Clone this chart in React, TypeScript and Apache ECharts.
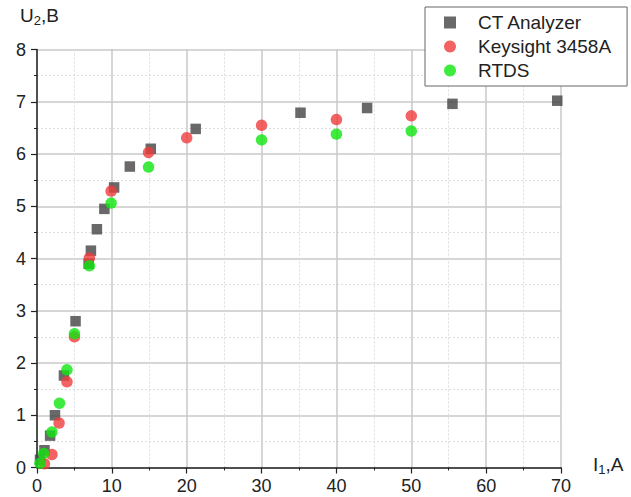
import React, { useEffect, useRef } from "react";
import * as echarts from "echarts";

const ctAnalyzer: number[][] = [
  [0.4, 0.15], [1.0, 0.33], [1.75, 0.61], [2.4, 1.0], [3.6, 1.76], [5.15, 2.8],
  [6.9, 3.9], [7.2, 4.15], [8.0, 4.56], [9.0, 4.95], [10.3, 5.36], [12.4, 5.76],
  [15.2, 6.1], [21.2, 6.48], [35.2, 6.79], [44.1, 6.88], [55.5, 6.96], [69.5, 7.02],
];
const keysight: number[][] = [
  [1.0, 0.07], [2.0, 0.25], [2.95, 0.85], [4.0, 1.64], [5.0, 2.5], [7.0, 4.01],
  [9.9, 5.29], [14.9, 6.03], [20, 6.31], [30, 6.55], [40, 6.66], [50, 6.73],
];
const rtds: number[][] = [
  [0.4, 0.08], [0.9, 0.27], [2.0, 0.68], [3.0, 1.23], [4.0, 1.87], [5.0, 2.56],
  [7.0, 3.86], [9.9, 5.06], [14.9, 5.75], [30, 6.27], [40, 6.38], [50, 6.44],
];
const seriesNames = ["CT Analyzer", "Keysight 3458A", "RTDS"];

const FONT = "'Liberation Sans', Arial, sans-serif";

export default function App() {
  const ref = useRef<HTMLDivElement>(null);
  useEffect(() => {
    if (!ref.current) return;
    const chart = echarts.init(ref.current, null, { renderer: "svg" });
    const axisCommon = {
      axisLine: { show: true, onZero: false, lineStyle: { color: "#222", width: 1.5 } },
      axisTick: { show: true, inside: false, length: 6, lineStyle: { color: "#222", width: 1.2 } },
      minorTick: { show: true, splitNumber: 2, length: 3, lineStyle: { color: "#222", width: 1 } },
      splitLine: { show: true, lineStyle: { color: "#c8c8c8", width: 1.5 } },
      minorSplitLine: { show: true, lineStyle: { color: "#dddddd", width: 1, type: [2, 2] } },
      axisLabel: { color: "#222", fontSize: 18, fontFamily: FONT },
    };
    const rich = {
      a: { fontSize: 19, fontFamily: FONT, fill: "#222" },
      b: { fontSize: 13, fontFamily: FONT, fill: "#222", verticalAlign: "bottom", padding: [9, 0, 0, 0] },
    };
    chart.setOption({
      animation: false,
      backgroundColor: "#fff",
      grid: { left: 37, right: 70, top: 49.5, bottom: 29.5, containLabel: false },
      xAxis: { type: "value", min: 0, max: 70, interval: 10, ...axisCommon,
        axisLabel: { ...axisCommon.axisLabel, margin: 9 } },
      yAxis: { type: "value", min: 0, max: 8, interval: 1, ...axisCommon,
        axisLabel: { ...axisCommon.axisLabel, margin: 11 } },
      legend: {
        orient: "vertical",
        left: 425,
        top: 7,
        padding: [6, 16, 6, 19],
        itemGap: 5,
        itemWidth: 12,
        itemHeight: 12,
        borderColor: "#666",
        borderWidth: 1,
        backgroundColor: "#fff",
        data: seriesNames,
        textStyle: { fontSize: 19, color: "#222", fontFamily: FONT, padding: [0, 0, 0, 17] },
      },
      graphic: [
        { type: "text", left: 20, top: 6, style: { text: "{a|U}{b|2}{a|,B}", rich } },
        { type: "text", left: 593, top: 455, style: { text: "{a|I}{b|1}{a|,A}", rich } },
      ],
      series: [
        { name: seriesNames[0], type: "scatter", symbol: "rect", symbolSize: 10.5, data: ctAnalyzer,
          itemStyle: { color: "#444444" }, z: 2 },
        { name: seriesNames[1], type: "scatter", symbol: "circle", symbolSize: 11.5, data: keysight,
          itemStyle: { color: "#f03c3c" }, z: 3 },
        { name: seriesNames[2], type: "scatter", symbol: "circle", symbolSize: 11.5, data: rtds,
          itemStyle: { color: "#0ee60e" }, z: 4 },
      ],
    });
    return () => chart.dispose();
  }, []);
  return <div ref={ref} style={{ width: 631, height: 497, position: "absolute", left: 0, top: 0 }} />;
}
